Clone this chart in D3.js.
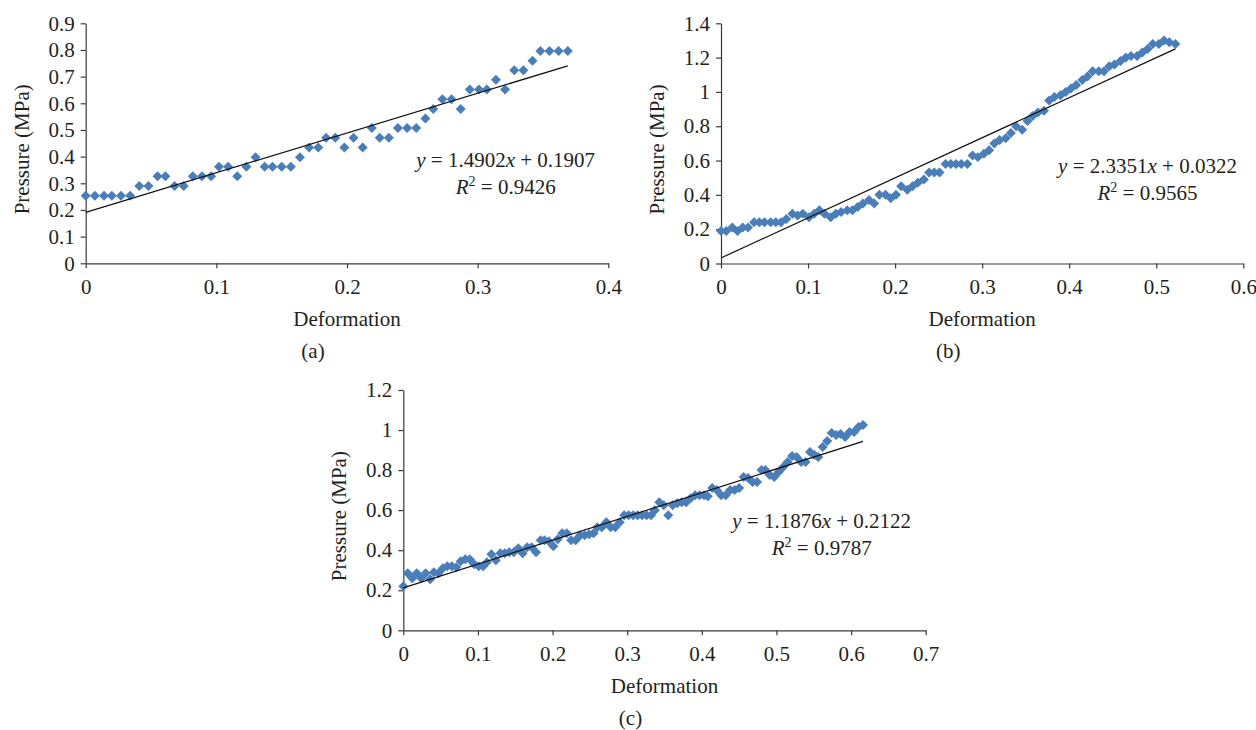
<!DOCTYPE html>
<html>
<head>
<meta charset="utf-8">
<script src="https://cdn.jsdelivr.net/npm/d3@7"></script>
<style>
  body { margin: 0; background: #fff; }
  svg { display: block; }
</style>
</head>
<body>
<svg width="1256" height="730"></svg>
<script>
// Data
const deformationA = [0, .007, .014, .020, .027, .034, .041, .048, .055, .061,
  .068, .075, .082, .089, .096, .102, .109, .116, .123, .130,
  .137, .143, .150, .157, .164, .171, .178, .184, .191, .198,
  .205, .212, .219, .225, .232, .239, .246, .253, .260, .266,
  .273, .280, .287, .294, .301, .307, .314, .321, .328, .335,
  .342, .348, .355, .362, .369];
const pressureA = [.253, .253, .253, .253, .253, .253, .290, .290, .326, .326,
  .290, .290, .326, .326, .326, .362, .362, .326, .362, .398,
  .362, .362, .362, .362, .398, .434, .434, .471, .471, .434,
  .471, .434, .507, .471, .471, .507, .507, .507, .543, .579,
  .615, .615, .579, .652, .652, .652, .688, .652, .724, .724,
  .760, .796, .796, .796, .796];

const deformationB = [0, .006, .013, .019, .025, .031, .038, .044, .050, .057,
  .063, .069, .075, .082, .088, .094, .101, .107, .113, .119,
  .126, .132, .138, .145, .151, .157, .163, .170, .176, .182,
  .189, .195, .201, .207, .214, .220, .226, .233, .239, .245,
  .251, .258, .264, .270, .276, .283, .289, .295, .302, .308,
  .314, .320, .327, .333, .339, .346, .352, .358, .364, .371,
  .377, .383, .390, .396, .402, .408, .415, .421, .427, .434,
  .440, .446, .452, .459, .465, .471, .478, .484, .490, .496,
  .503, .509, .515, .522];
const pressureB = [.19, .19, .21, .19, .21, .21, .24, .24, .24, .24,
  .24, .24, .26, .29, .28, .29, .27, .29, .31, .29,
  .27, .29, .30, .31, .31, .33, .35, .37, .35, .40,
  .40, .38, .40, .45, .43, .45, .47, .49, .53, .53,
  .53, .58, .58, .58, .58, .58, .63, .62, .64, .66,
  .70, .72, .73, .76, .80, .78, .83, .86, .88, .89,
  .95, .97, .98, 1.00, 1.02, 1.04, 1.07, 1.09, 1.12, 1.12,
  1.12, 1.15, 1.16, 1.18, 1.20, 1.21, 1.21, 1.23, 1.25, 1.28,
  1.28, 1.30, 1.29, 1.28];

const deformationC = [0, .006, .012, .018, .024, .030, .036, .041, .047, .053,
  .059, .065, .071, .077, .083, .089, .095, .101, .107, .112,
  .118, .124, .130, .136, .142, .148, .154, .160, .166, .172,
  .178, .184, .189, .195, .201, .207, .213, .219, .225, .231,
  .237, .243, .249, .255, .260, .266, .272, .278, .284, .290,
  .296, .302, .308, .314, .320, .326, .332, .337, .343, .349,
  .355, .361, .367, .373, .379, .385, .391, .397, .403, .408,
  .414, .420, .426, .432, .438, .444, .450, .456, .462, .468,
  .474, .480, .485, .491, .497, .503, .509, .515, .521, .527,
  .533, .539, .545, .551, .556, .562, .568, .574, .580, .586,
  .592, .598, .604, .610, .616];
const pressureC = [.22, .285, .26, .285, .26, .285, .255, .29, .285, .31,
  .32, .32, .315, .345, .355, .355, .33, .32, .32, .34,
  .38, .35, .385, .385, .39, .39, .41, .385, .415, .415,
  .39, .45, .45, .445, .42, .455, .485, .485, .45, .45,
  .475, .475, .48, .485, .515, .515, .54, .515, .515, .54,
  .575, .575, .575, .575, .575, .575, .575, .60, .64, .625,
  .575, .625, .635, .64, .64, .66, .675, .675, .675, .67,
  .71, .70, .675, .675, .70, .70, .71, .765, .76, .74,
  .74, .80, .80, .775, .765, .79, .815, .84, .87, .865,
  .84, .84, .89, .875, .865, .915, .945, .985, .975, .98,
  .965, .99, .99, 1.015, 1.025];

// Linear fits shown on the chart
const slopes = [1.4902, 2.3351, 1.1876];
const intercepts = [0.1907, 0.0322, 0.2122];
const rSquared = ["0.9426", "0.9565", "0.9787"];
const panelLabels = ["(a)", "(b)", "(c)"];

// Tick labels
const xTicksA = [0, 0.1, 0.2, 0.3, 0.4];
const yTicksA = [0, 0.1, 0.2, 0.3, 0.4, 0.5, 0.6, 0.7, 0.8, 0.9];
const xTicksB = [0, 0.1, 0.2, 0.3, 0.4, 0.5, 0.6];
const yTicksB = [0, 0.2, 0.4, 0.6, 0.8, 1, 1.2, 1.4];
const xTicksC = [0, 0.1, 0.2, 0.3, 0.4, 0.5, 0.6, 0.7];
const yTicksC = [0, 0.2, 0.4, 0.6, 0.8, 1, 1.2];

// select the svg container
const svg = d3.select("svg");
const font = "'Liberation Serif', 'DejaVu Serif', serif";
const fontSize = 21;
const textColor = "#231f20";
const blue = "#4a7ebb";

// layout of each panel (plot area in page pixels)
const panels = [
  {xs: deformationA, ys: pressureA, xTicks: xTicksA, yTicks: yTicksA,
   left: 85.7, top: 23.3, width: 522.6, height: 240, eqX: 420, eqY: 144},
  {xs: deformationB, ys: pressureB, xTicks: xTicksB, yTicks: yTicksB,
   left: 721, top: 23.3, width: 522.3, height: 240.2, eqX: 426.5, eqY: 149.4},
  {xs: deformationC, ys: pressureC, xTicks: xTicksC, yTicks: yTicksC,
   left: 403.3, top: 390, width: 522.4, height: 240.3, eqX: 418.4, eqY: 138.3}
];

const fmt = d3.format("~g");

// helper for the serif text labels
const addText = (g, x, y, anchor) => g.append("text")
  .attr("x", x).attr("y", y)
  .attr("text-anchor", anchor)
  .attr("font-family", font)
  .attr("font-size", fontSize)
  .attr("fill", textColor);

panels.forEach((p, k) => {
  const graph = svg.append("g")
    .attr("transform", `translate(${p.left},${p.top})`);

  // Scales
  const x = d3.scaleLinear()
    .domain([0, d3.max(p.xTicks)])
    .range([0, p.width]);
  const y = d3.scaleLinear()
    .domain([0, d3.max(p.yTicks)])
    .range([p.height, 0]);

  // Axes
  const xAxis = d3.axisBottom(x).tickValues(p.xTicks)
    .tickSize(5).tickSizeOuter(0).tickPadding(11).tickFormat(fmt);
  const yAxis = d3.axisLeft(y).tickValues(p.yTicks)
    .tickSize(5).tickSizeOuter(0).tickPadding(6).tickFormat(fmt);

  const xAxisGroup = graph.append("g")
    .attr("transform", `translate(0,${p.height})`)
    .call(xAxis);
  const yAxisGroup = graph.append("g").call(yAxis);

  [xAxisGroup, yAxisGroup].forEach(g => {
    g.attr("font-family", font).attr("font-size", fontSize);
    g.selectAll("text").attr("fill", textColor);
    g.selectAll("path, line").attr("stroke", "#3a3a3a").attr("stroke-width", 1.2);
  });

  // Points as diamonds
  const points = p.xs.map((d, i) => ({x: d, y: p.ys[i]}));
  graph.selectAll(".pt")
    .data(points)
    .enter()
    .append("path")
    .attr("class", "pt")
    .attr("d", d3.symbol(d3.symbolSquare, 50))
    .attr("fill", blue)
    .attr("transform", d => `translate(${x(d.x)},${y(d.y)}) rotate(45)`);

  // Trend line
  const xEnd = d3.max(p.xs);
  graph.append("line")
    .attr("x1", x(0)).attr("y1", y(intercepts[k]))
    .attr("x2", x(xEnd)).attr("y2", y(slopes[k] * xEnd + intercepts[k]))
    .attr("stroke", "#111")
    .attr("stroke-width", 1.2);

  // Equation text
  const eq = addText(graph, p.eqX, p.eqY, "middle");
  eq.append("tspan").attr("font-style", "italic").text("y");
  eq.append("tspan").text(` = ${slopes[k].toFixed(4)}`);
  eq.append("tspan").attr("font-style", "italic").text("x");
  eq.append("tspan").text(` + ${intercepts[k].toFixed(4)}`);

  const r2 = addText(graph, p.eqX, p.eqY + 27, "middle");
  r2.append("tspan").attr("font-style", "italic").text("R");
  r2.append("tspan").attr("font-size", 14).attr("dy", -8).text("2");
  r2.append("tspan").attr("dy", 8).text(` = ${rSquared[k]}`);

  // Axis titles
  addText(graph, p.width / 2, p.height + 63, "middle").text("Deformation");

  addText(graph, 0, 0, "middle")
    .attr("transform", `translate(-57,${p.height / 2 + 6}) rotate(-90)`)
    .text("Pressure (MPa)");

  // Panel label
  addText(graph, p.width / 2 - 34, p.height + 95, "middle").text(panelLabels[k]);
});
</script>
</body>
</html>
